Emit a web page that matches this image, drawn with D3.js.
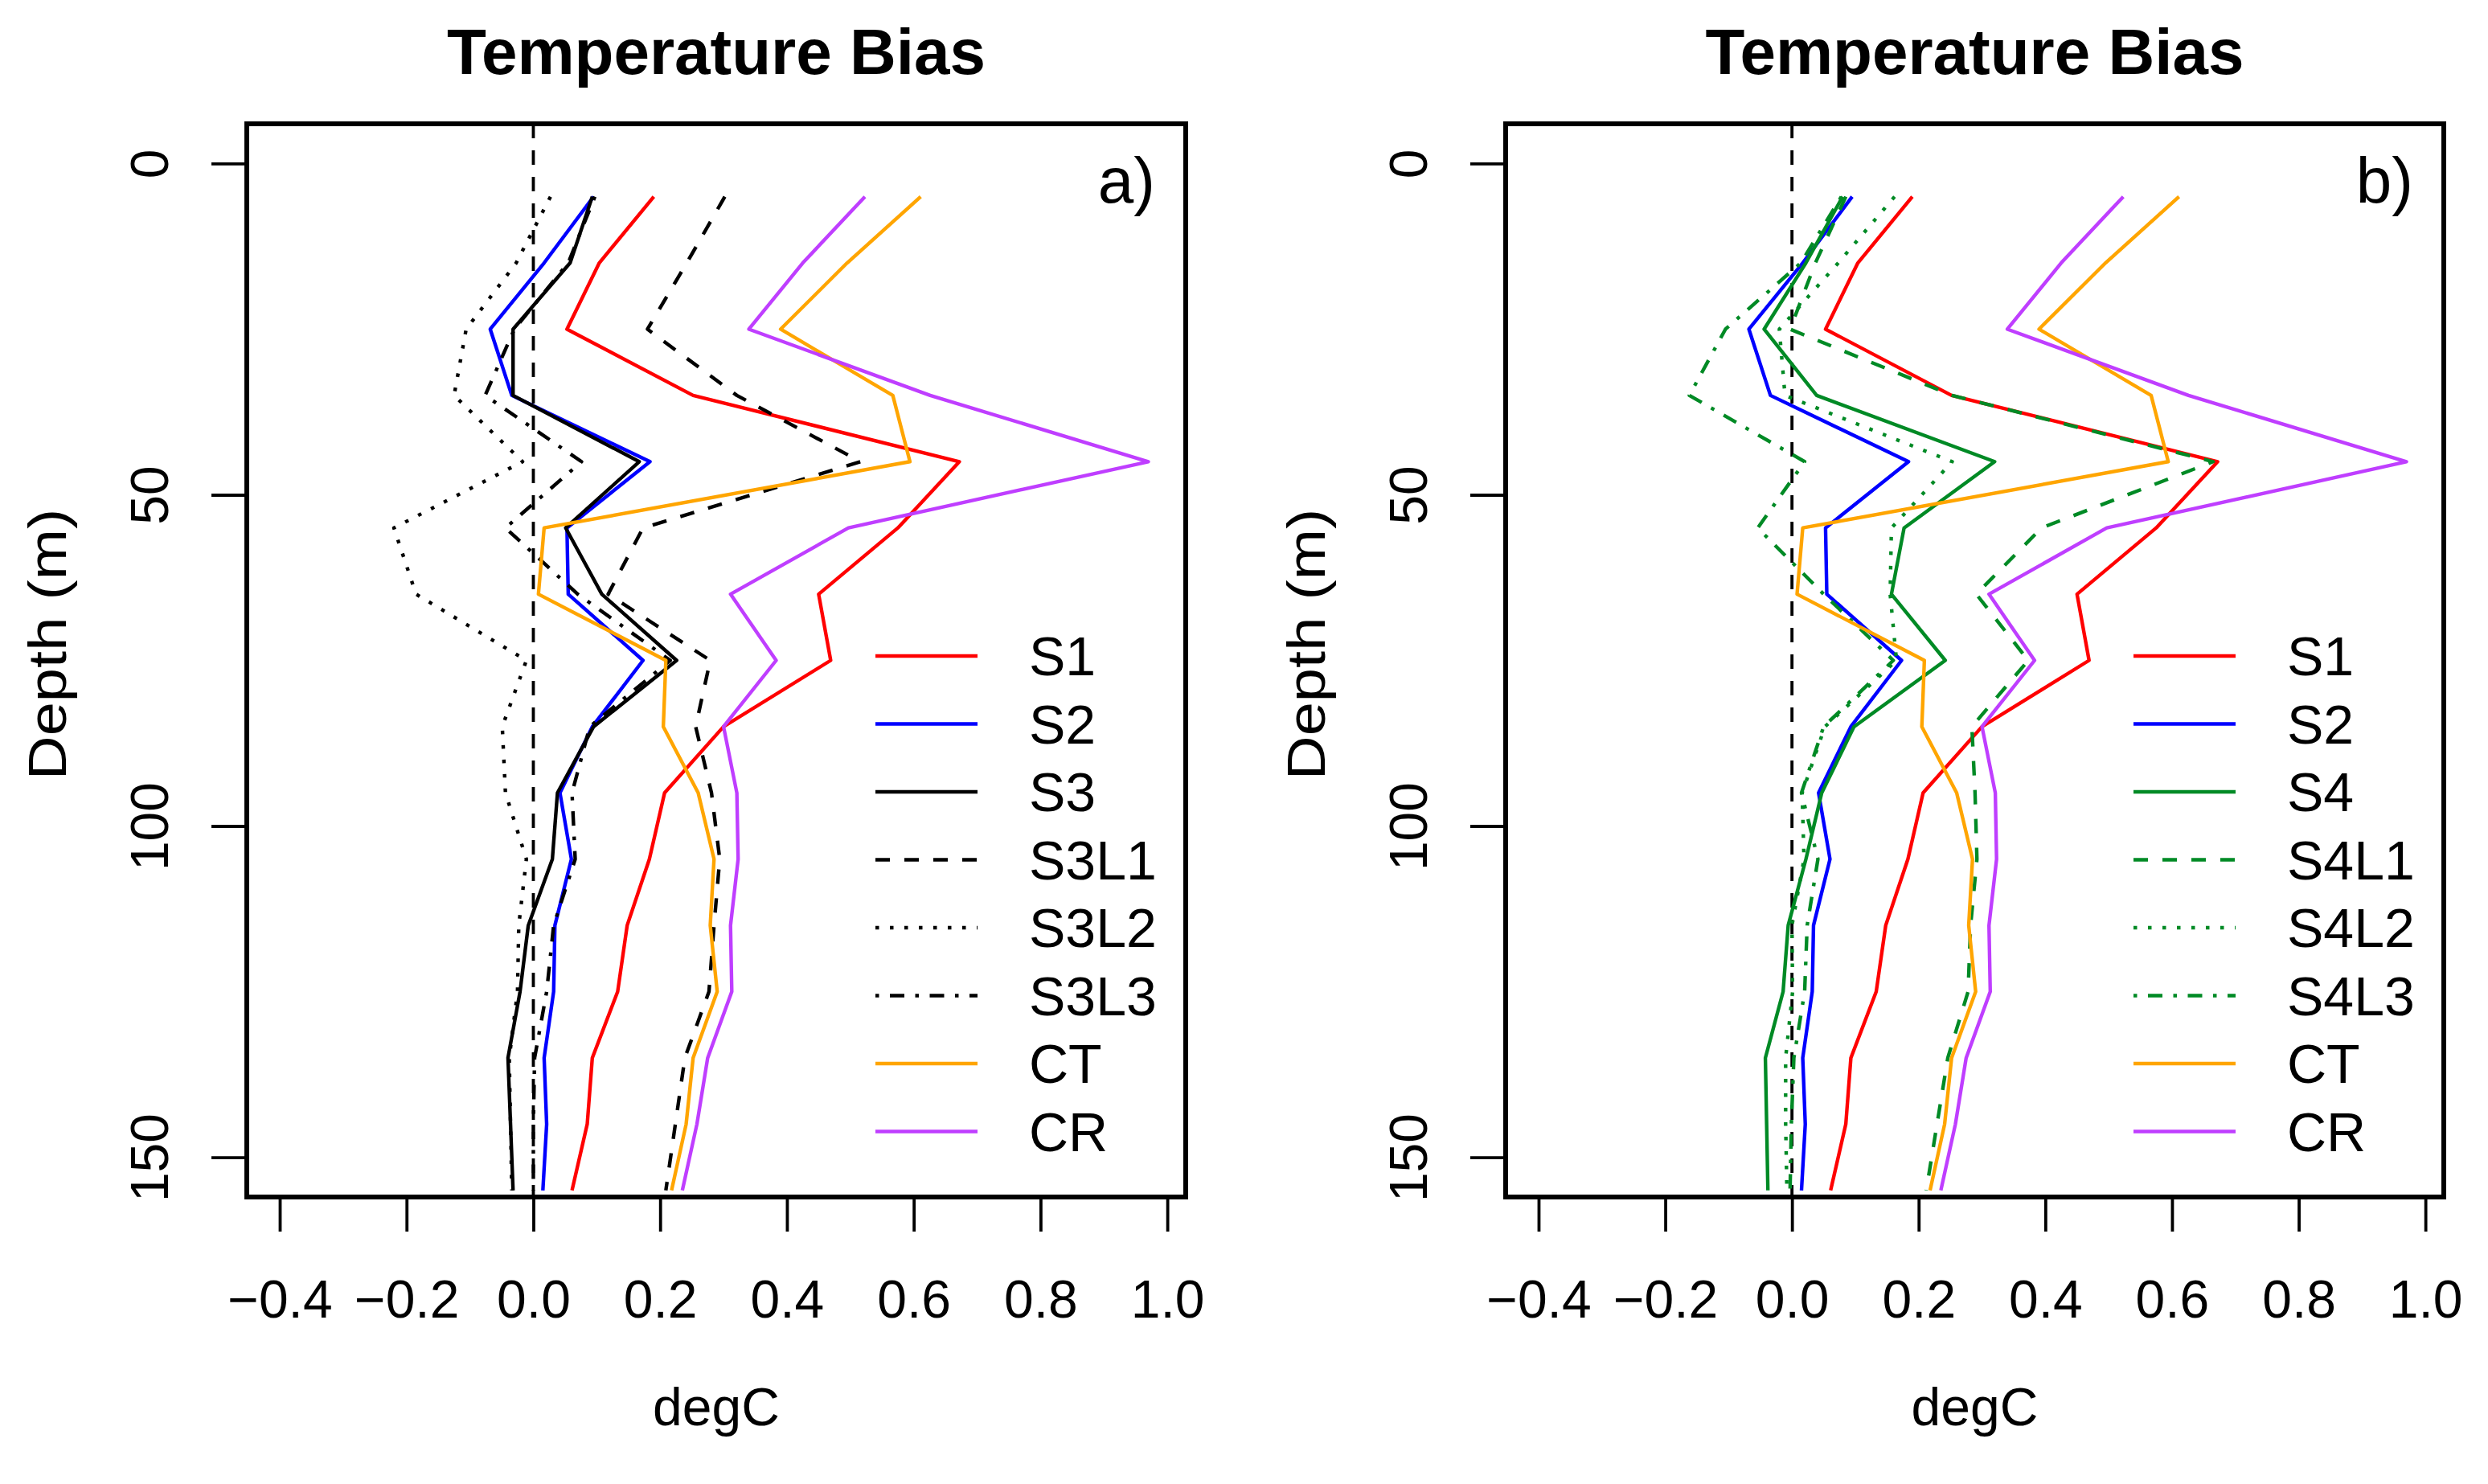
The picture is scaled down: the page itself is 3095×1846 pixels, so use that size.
<!DOCTYPE html>
<html>
<head>
<meta charset="utf-8">
<script src="https://cdn.jsdelivr.net/npm/d3@7"></script>
<style>
body { margin: 0; background: #fff; }
text { font-family: "Liberation Sans", Arial, Helvetica, sans-serif; fill: #000; }
</style>
</head>
<body>
<svg id="chart" width="3095" height="1846"></svg>
<script>
// depth levels (m)
var depth = [5, 15, 25, 35, 45, 55, 65, 75, 85, 95, 105, 115, 125, 135, 145, 155];

// temperature bias (degC)
var s1   = [0.190, 0.104, 0.053, 0.252, 0.672, 0.575, 0.450, 0.469, 0.300, 0.207, 0.183, 0.148, 0.133, 0.093, 0.085, 0.061];
var s2   = [0.095, 0.017, -0.068, -0.034, 0.184, 0.053, 0.055, 0.173, 0.093, 0.042, 0.060, 0.034, 0.032, 0.017, 0.021, 0.015];
var s3   = [0.093, 0.058, -0.032, -0.032, 0.167, 0.051, 0.108, 0.226, 0.095, 0.038, 0.030, -0.008, -0.021, -0.040, -0.036, -0.032];
var s3l1 = [0.302, 0.242, 0.180, 0.321, 0.516, 0.173, 0.118, 0.279, 0.256, 0.281, 0.294, 0.285, 0.277, 0.239, 0.224, 0.209];
var s3l2 = [0.027, -0.027, -0.106, -0.125, -0.017, -0.220, -0.185, -0.011, -0.049, -0.044, -0.011, -0.023, -0.025, -0.038, -0.036, -0.034];
var s3l3 = [0.097, 0.055, -0.030, -0.076, 0.076, -0.044, 0.070, 0.216, 0.089, 0.061, 0.066, 0.032, 0.021, 0.002, 0.000, 0.000];
var s4   = [0.080, 0.022, -0.044, 0.039, 0.320, 0.177, 0.157, 0.242, 0.098, 0.047, 0.022, -0.006, -0.014, -0.042, -0.040, -0.038];
var s4l1 = [0.085, 0.037, -0.003, 0.253, 0.665, 0.394, 0.291, 0.373, 0.284, 0.289, 0.292, 0.282, 0.278, 0.246, 0.229, 0.212];
var s4l2 = [0.162, 0.073, -0.020, -0.011, 0.253, 0.157, 0.155, 0.165, 0.052, 0.016, 0.019, 0.000, 0.001, -0.010, -0.010, -0.008];
var s4l3 = [0.078, 0.014, -0.105, -0.162, 0.020, -0.054, 0.050, 0.160, 0.050, 0.015, 0.041, 0.024, 0.020, 0.003, -0.001, -0.003];
var ct   = [0.611, 0.495, 0.390, 0.567, 0.594, 0.017, 0.008, 0.209, 0.205, 0.260, 0.285, 0.279, 0.290, 0.252, 0.241, 0.218];
var cr   = [0.523, 0.425, 0.340, 0.626, 0.970, 0.497, 0.311, 0.383, 0.300, 0.321, 0.323, 0.311, 0.313, 0.275, 0.258, 0.235];

var namesA = ["S1", "S2", "S3", "S3L1", "S3L2", "S3L3", "CT", "CR"];
var namesB = ["S1", "S2", "S4", "S4L1", "S4L2", "S4L3", "CT", "CR"];
var valuesA = [s1, s2, s3, s3l1, s3l2, s3l3, ct, cr];
var valuesB = [s1, s2, s4, s4l1, s4l2, s4l3, ct, cr];

var xTicks = [-0.4, -0.2, 0.0, 0.2, 0.4, 0.6, 0.8, 1.0];
var yTicks = [0, 50, 100, 150];

// line styles
var colors = { S1: "#ff0000", S2: "#0000ff", S3: "#000000", S3L1: "#000000", S3L2: "#000000", S3L3: "#000000",
               S4: "#008a25", S4L1: "#008a25", S4L2: "#008a25", S4L3: "#008a25", CT: "#ffa500", CR: "#bf3eff" };
var dashes = { L1: "18,18", L2: "4.5,13.5", L3: "4.5,13.5,18,13.5" };
function dashOf(name) {
    var m = name.match(/L\d$/);
    return m ? dashes[m[0]] : null;
}

var svg = d3.select("#chart");
var plotTop = 154, plotBottom = 1489;
var lw = 4.4;

function panel(left, right, names, values, tag, id) {
    var x = d3.scaleLinear().domain([-0.452, 1.029]).range([left, right]);
    var y = d3.scaleLinear().domain([-6, 156]).range([plotTop, plotBottom]);
    var cx = (left + right) / 2;

    svg.append("clipPath").attr("id", id)
        .append("rect").attr("x", left).attr("y", plotTop)
        .attr("width", right - left).attr("height", plotBottom - plotTop);

    var g = svg.append("g");

    // zero reference
    g.append("line")
        .attr("x1", x(0)).attr("x2", x(0))
        .attr("y1", plotTop).attr("y2", plotBottom)
        .attr("stroke", "#000").attr("stroke-width", 3.8)
        .attr("stroke-dasharray", "18,15");

    var line = d3.line()
        .x(function(d) { return x(d[1]); })
        .y(function(d) { return y(d[0]); });

    names.forEach(function(name, i) {
        var pts = depth.map(function(dp, k) { return [dp, values[i][k]]; });
        g.append("path")
            .attr("d", line(pts))
            .attr("clip-path", "url(#" + id + ")")
            .attr("fill", "none")
            .attr("stroke", colors[name])
            .attr("stroke-width", lw)
            .attr("stroke-linejoin", "round")
            .attr("stroke-dasharray", dashOf(name));
    });

    // box
    g.append("rect")
        .attr("x", left).attr("y", plotTop)
        .attr("width", right - left).attr("height", plotBottom - plotTop)
        .attr("fill", "none").attr("stroke", "#000").attr("stroke-width", 6);

    // x axis
    var xa = g.append("g").attr("transform", "translate(0," + plotBottom + ")")
        .call(d3.axisBottom(x).tickValues(xTicks).tickSize(43).tickFormat(d3.format(".1f")));
    xa.select(".domain").remove();
    xa.selectAll(".tick line").attr("stroke-width", 3.8);
    xa.selectAll(".tick text")
        .attr("y", 150).attr("dy", 0)
        .style("font-size", "66px").style("font-family", "Liberation Sans, Arial, sans-serif");

    // y axis
    var ya = g.append("g").attr("transform", "translate(" + left + ",0)")
        .call(d3.axisLeft(y).tickValues(yTicks).tickSize(44));
    ya.select(".domain").remove();
    ya.selectAll(".tick line").attr("stroke-width", 3.8);
    ya.selectAll(".tick text")
        .attr("transform", "rotate(-90)")
        .attr("x", 0).attr("y", -98).attr("dy", 0)
        .attr("text-anchor", "middle")
        .style("font-size", "66px").style("font-family", "Liberation Sans, Arial, sans-serif");

    // titles
    g.append("text").attr("x", cx).attr("y", 92)
        .attr("text-anchor", "middle")
        .style("font-size", "80px").style("font-weight", "bold")
        .text("Temperature Bias");
    g.append("text").attr("x", cx).attr("y", 1773)
        .attr("text-anchor", "middle").style("font-size", "66px")
        .text("degC");
    g.append("text")
        .attr("transform", "translate(" + (left - 225) + "," + ((plotTop + plotBottom) / 2 - 20) + ") rotate(-90) scale(1.15,1)")
        .attr("text-anchor", "middle").style("font-size", "66px")
        .text("Depth (m)");
    g.append("text").attr("x", right - 38).attr("y", 252)
        .attr("text-anchor", "end").style("font-size", "80px")
        .text(tag);

    // legend
    var leg = g.append("g");
    names.forEach(function(name, i) {
        var ly = 816 + 84.5 * i;
        leg.append("line")
            .attr("x1", right - 386).attr("x2", right - 259)
            .attr("y1", ly).attr("y2", ly)
            .attr("stroke", colors[name]).attr("stroke-width", lw)
            .attr("stroke-dasharray", dashOf(name));
        leg.append("text")
            .attr("x", right - 195).attr("y", ly + 24)
            .style("font-size", "68px")
            .text(name);
    });
}

panel(307, 1475, namesA, valuesA, "a)", "clipA");
panel(1873, 3040, namesB, valuesB, "b)", "clipB");
</script>
</body>
</html>
